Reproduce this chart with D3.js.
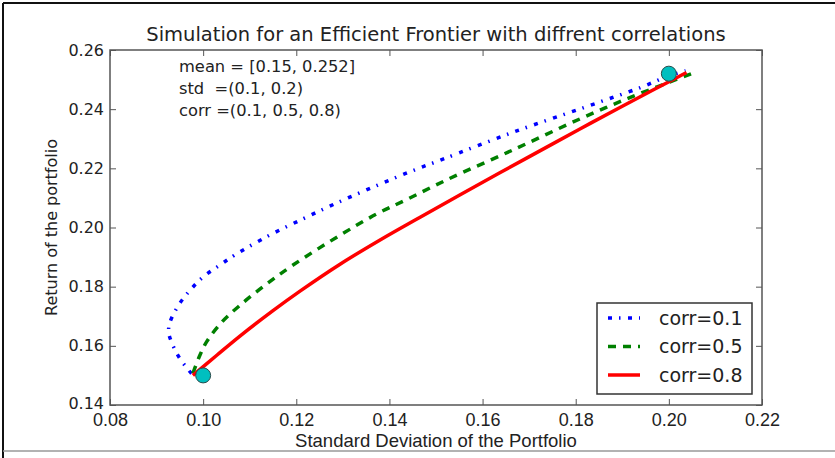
<!DOCTYPE html>
<html>
<head>
<meta charset="utf-8">
<script src="https://cdn.jsdelivr.net/npm/d3@7"></script>
<style>
  html, body { margin: 0; padding: 0; background: #fff; }
  svg { display: block; }
</style>
</head>
<body>
<svg id="chart" width="835" height="458"></svg>
<script>
// Efficient frontier curves (standard deviation, return) for three correlations
const corrLabels = ["corr=0.1", "corr=0.5", "corr=0.8"];

const stdCorr01 = [0.0975, 0.0950, 0.0932, 0.0926, 0.0928, 0.0947, 0.0972, 0.1000, 0.1036, 0.1068, 0.1139, 0.1214, 0.1287, 0.1364, 0.1440, 0.1515, 0.1669, 0.1824, 0.1942, 0.1997, 0.2036];
const retCorr01 = [0.1506, 0.1557, 0.1613, 0.1646, 0.1676, 0.1737, 0.1788, 0.1833, 0.1873, 0.1907, 0.1971, 0.2029, 0.2083, 0.2136, 0.2186, 0.2231, 0.2324, 0.2409, 0.2475, 0.2511, 0.2530];

const stdCorr05 = [0.0978, 0.0993, 0.1008, 0.1040, 0.1079, 0.1133, 0.1193, 0.1294, 0.1373, 0.1439, 0.1523, 0.1665, 0.1809, 0.1916, 0.2055];
const retCorr05 = [0.1507, 0.1568, 0.1615, 0.1680, 0.1737, 0.1805, 0.1873, 0.1974, 0.2046, 0.2096, 0.2161, 0.2262, 0.2367, 0.2439, 0.2524];

const stdCorr08 = [0.0978, 0.1030, 0.1079, 0.1150, 0.1208, 0.1294, 0.1379, 0.1465, 0.1551, 0.1637, 0.1723, 0.1809, 0.1894, 0.1970, 0.2038];
const retCorr08 = [0.1500, 0.1569, 0.1633, 0.1719, 0.1785, 0.1876, 0.1957, 0.2034, 0.2110, 0.2185, 0.2259, 0.2333, 0.2405, 0.2468, 0.2524];

// The two single assets
const assetStd = [0.1, 0.2];
const assetMean = [0.15, 0.252];

const xTicks = [0.08, 0.10, 0.12, 0.14, 0.16, 0.18, 0.20, 0.22];
const yTicks = [0.14, 0.16, 0.18, 0.20, 0.22, 0.24, 0.26];

const infoLines = ["mean = [0.15, 0.252]", "std  =(0.1, 0.2)", "corr =(0.1, 0.5, 0.8)"];

const series = [
  { label: corrLabels[0], std: stdCorr01, ret: retCorr01, color: "#0000ff", dash: "4,7,1.5,7.5" },
  { label: corrLabels[1], std: stdCorr05, ret: retCorr05, color: "#008000", dash: "8,7" },
  { label: corrLabels[2], std: stdCorr08, ret: retCorr08, color: "#ff0000", dash: null }
];

const svg = d3.select("#chart");
const W = 835, H = 458;
const m = { left: 110, right: 835 - 762, top: 50, bottom: 458 - 405 };
const iw = W - m.left - m.right, ih = H - m.top - m.bottom;

// outer frame of the figure
svg.append("line").attr("x1", 3).attr("y1", 3).attr("x2", W).attr("y2", 3)
  .attr("stroke", "#111").attr("stroke-width", 2);
svg.append("line").attr("x1", 3).attr("y1", 3).attr("x2", 3).attr("y2", H)
  .attr("stroke", "#111").attr("stroke-width", 2);
svg.append("line").attr("x1", 3).attr("y1", 451).attr("x2", W).attr("y2", 451)
  .attr("stroke", "#999").attr("stroke-width", 1.5);

const x = d3.scaleLinear().domain([0.08, 0.22]).range([m.left, m.left + iw]);
const y = d3.scaleLinear().domain([0.14, 0.26]).range([m.top + ih, m.top]);

const fmt = d3.format(".2f");
const tickColor = "#555";
const textColor = "#222";

// bottom axis with labels, ticks pointing inward
const gx = svg.append("g").attr("transform", `translate(0,${m.top + ih})`)
  .call(d3.axisBottom(x).tickValues(xTicks).tickFormat(fmt).tickSize(-6).tickPadding(8));
gx.selectAll("text").attr("font-family", "Liberation Sans, Arial, sans-serif")
  .attr("font-size", 18).attr("fill", textColor);

const gy = svg.append("g").attr("transform", `translate(${m.left},0)`)
  .call(d3.axisLeft(y).tickValues(yTicks).tickFormat(fmt).tickSize(-6).tickPadding(6));
gy.selectAll("text").attr("font-family", "DejaVu Sans, sans-serif")
  .attr("font-size", 16).attr("fill", textColor);
// lowest y label sits slightly higher so it clears the x labels
gy.selectAll(".tick").filter(d => d === 0.14).select("text").attr("dy", "0.2em");

const gt = svg.append("g").attr("transform", `translate(0,${m.top})`)
  .call(d3.axisTop(x).tickValues(xTicks).tickFormat("").tickSize(-6));
const gr = svg.append("g").attr("transform", `translate(${m.left + iw},0)`)
  .call(d3.axisRight(y).tickValues(yTicks).tickFormat("").tickSize(-6));

[gx, gy, gt, gr].forEach(g => {
  g.select(".domain").remove();
  g.selectAll(".tick line").attr("stroke", tickColor).attr("stroke-width", 1);
});

// plot frame
svg.append("rect").attr("x", m.left).attr("y", m.top).attr("width", iw).attr("height", ih)
  .attr("fill", "none").attr("stroke", tickColor).attr("stroke-width", 1.5);

// title
svg.append("text").attr("x", (m.left + m.left + iw) / 2).attr("y", 41)
  .attr("text-anchor", "middle").attr("font-family", "DejaVu Sans, sans-serif")
  .attr("font-size", 19.5).attr("fill", textColor)
  .text("Simulation for an Efficient Frontier with diffrent correlations");

// axis titles
svg.append("text").attr("x", (m.left + m.left + iw) / 2).attr("y", 447)
  .attr("text-anchor", "middle").attr("font-family", "Liberation Sans, Arial, sans-serif")
  .attr("font-size", 18.5).attr("fill", textColor)
  .text("Standard Deviation of the Portfolio");

svg.append("text").attr("transform", `translate(57,${m.top + ih / 2}) rotate(-90)`)
  .attr("text-anchor", "middle").attr("font-family", "DejaVu Sans, sans-serif")
  .attr("font-size", 16).attr("fill", textColor)
  .text("Return of the portfolio");

// parameter notes
svg.append("g").selectAll("text").data(infoLines).join("text")
  .attr("x", 179).attr("y", (d, i) => 72 + i * 22)
  .attr("font-family", "DejaVu Sans, sans-serif").attr("font-size", 16.3)
  .attr("fill", textColor)
  .style("white-space", "pre")
  .text(d => d);

// frontier curves
const line = d3.line().x(d => x(d[0])).y(d => y(d[1])).curve(d3.curveCatmullRom.alpha(0.5));
series.forEach(s => {
  const pts = s.std.map((v, i) => [v, s.ret[i]]);
  svg.append("path").datum(pts).attr("d", line)
    .attr("fill", "none").attr("stroke", s.color).attr("stroke-width", 3.5)
    .attr("stroke-dasharray", s.dash).attr("stroke-linecap", "butt");
});

// single-asset markers
svg.append("g").selectAll("circle").data(assetStd).join("circle")
  .attr("cx", d => x(d)).attr("cy", (d, i) => y(assetMean[i])).attr("r", 7.5)
  .attr("fill", "#00bfbf").attr("stroke", "#2a4a4a").attr("stroke-width", 1);

// legend
const lg = svg.append("g");
lg.append("rect").attr("x", 597).attr("y", 303).attr("width", 155).attr("height", 91)
  .attr("fill", "#fff").attr("stroke", "#333").attr("stroke-width", 1.5);
series.forEach((s, i) => {
  const cy = 318 + i * 28.5;
  lg.append("line").attr("x1", 608).attr("x2", 640).attr("y1", cy).attr("y2", cy)
    .attr("stroke", s.color).attr("stroke-width", 3.5).attr("stroke-dasharray", s.dash);
  lg.append("text").attr("x", 659).attr("y", cy).attr("dy", "0.36em")
    .attr("font-family", "DejaVu Sans, sans-serif").attr("font-size", 19)
    .attr("fill", textColor).text(s.label);
});
</script>
</body>
</html>
